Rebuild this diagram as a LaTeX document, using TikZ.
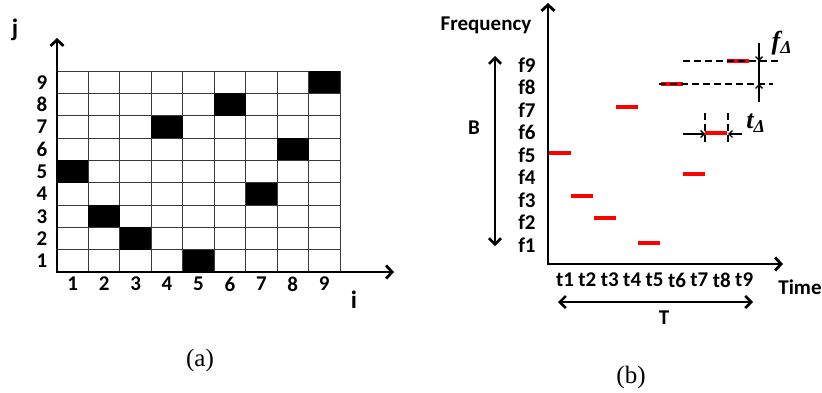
\documentclass[tikz,border=0pt]{standalone}
\usepackage{fontspec}
\setmainfont{Carlito}
\newfontfamily\legendefont{Liberation Serif}
\usetikzlibrary{arrows.meta}

\definecolor{grillegris}{HTML}{3A3A3A}
\definecolor{sautrouge}{HTML}{FF0000}
\definecolor{axenoir}{HTML}{000000}

\tikzset{
  trait/.style={draw=grillegris, line width=0.9pt},
  axes/.style={draw=axenoir, line width=2.8pt, line join=miter,
    {Straight Barb[length=6pt,width=13pt]}-{Straight Barb[length=6pt,width=13pt]}},
  fleche2/.style={draw=axenoir, line width=2.6pt,
    {Straight Barb[length=6pt,width=12pt]}-{Straight Barb[length=6pt,width=12pt]}},
  cote/.style={draw=axenoir, line width=1.3pt, -{Straight Barb[length=3.5pt,width=7pt]}},
  repere/.style={draw=axenoir, line width=1.2pt, dash pattern=on 7pt off 4pt},
  saut/.style={draw=sautrouge, line width=4pt},
  etiq/.style={font=\fontsize{21}{24}\selectfont\bfseries, inner sep=0pt},
  legende/.style={font=\legendefont\fontsize{25}{28}\selectfont, inner sep=0pt},
  delta/.style={font=\legendefont\bfseries\itshape\fontsize{26}{28}\selectfont, inner sep=0pt},
}

\begin{document}
\begin{tikzpicture}[x=1pt,y=-1pt]
\useasboundingbox (0,0) rectangle (822,392);

% (a) grille 9x9
\foreach \k in {0,...,9}{
  \draw[trait] (57+\k*31.44,71) -- (57+\k*31.44,272);
  \draw[trait] (57,71+\k*22.33) -- (340,71+\k*22.33);
}
\foreach \i/\j in {1/5,2/3,3/2,4/7,5/1,6/8,7/4,8/6,9/9}
  \fill[axenoir] (57+\i*31.44-31.44,272-\j*22.33) rectangle ++(31.44,22.33);
\foreach \k in {1,...,9}{
  \node[etiq] (col\k) at (57+\k*31.44-15.72,284) {\k};
  \node[etiq] (lig\k) at (42,272-\k*22.33+11.17) {\k};
}
\coordinate (aO) at (57,272);
\coordinate (aY) at (57,38);
\coordinate (aX) at (394,272);
\draw[axes] (aY) -- (aO) -- (aX);
\node[etiq, font=\fontsize{25}{28}\selectfont\bfseries] (axej) at (15,30) {j};
\node[etiq, font=\fontsize{25}{28}\selectfont\bfseries] (axei) at (354,300) {i};
\node[legende] (capa) at (200,360) {(a)};

% (b) sauts de frequence
\foreach \k/\yy in {1/153,2/196,3/218,4/107,5/243,6/84,7/174,8/133,9/61}
  \draw[saut] (549+\k*22.3-22.3,\yy) -- ++(22,0);
\foreach \n in {1,...,9}{
  \node[etiq] (f\n) at (527,245-\n*22.5+22.5) {f\n};
  \node[etiq] (t\n) at (565+\n*22.4-22.4,280) {t\n};
}
\coordinate (bO) at (548,264);
\coordinate (bY) at (548,3);
\coordinate (bX) at (783,264);
\draw[axes] (bY) -- (bO) -- (bX);
\node[etiq] (freq) at (486,25) {Frequency};
\node[etiq] (temps) at (800,287) {Time};

\coordinate (bHaut) at (495,56);
\coordinate (bBas) at (495,246);
\draw[fleche2] (bHaut) -- (bBas);
\node[etiq] (largeur) at (474,128) {B};
\coordinate (tG) at (558,302);
\coordinate (tD) at (753,302);
\draw[fleche2] (tG) -- (tD);
\node[etiq] (duree) at (664,318) {T};

% f_delta
\coordinate (f9g) at (683,61);  \coordinate (f9d) at (778,61);
\coordinate (f8g) at (659,84);  \coordinate (f8d) at (773,84);
\draw[repere] (f9g) -- (f9d);
\draw[repere] (f8g) -- (f8d);
\coordinate (fdH) at (759,43);
\coordinate (fdB) at (759,102);
\draw[cote, -] (fdH) -- (fdB);
\draw[cote] (fdH) -- (759,61);
\draw[cote] (fdB) -- (759,84);
\node[delta] (fdelta) at (782,43) {f\textsubscript{Δ}};

% t_delta
\coordinate (t8g) at (705,113); \coordinate (t8gb) at (705,143);
\coordinate (t8d) at (728,113); \coordinate (t8db) at (728,143);
\draw[repere] (t8g) -- (t8gb);
\draw[repere] (t8d) -- (t8db);
\draw[cote] (683,134) -- (705,134);
\draw[cote] (742,134) -- (728,134);
\node[delta] (tdelta) at (756,123) {t\textsubscript{Δ}};
\node[legende] (capb) at (631,377) {(b)};
\end{tikzpicture}
\end{document}
